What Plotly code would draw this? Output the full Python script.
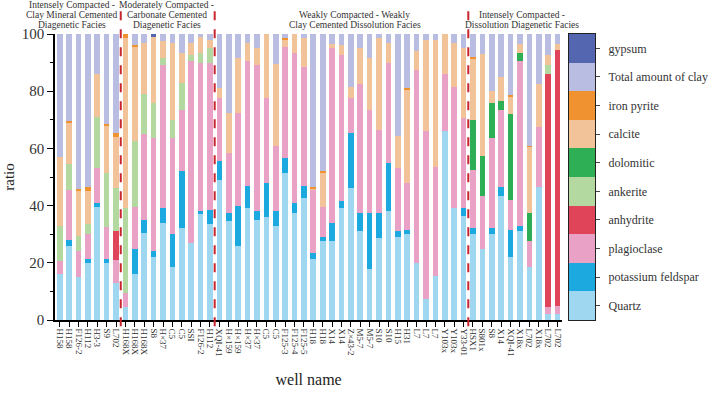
import plotly.graph_objects as go

# ---------------- data ----------------
wells = [
    # group 1
    "H158", "H158", "F126-2", "H112", "H3-3", "S9", "L702",
    # group 2
    "H168X", "H168X", "H168X", "S8", "H×37", "C5", "C5", "SSI", "F126-2", "H112",
    # group 3
    "XQI-41", "H×159", "H×159", "H×37", "H×37", "C5", "C5", "F125-3", "F125-4", "F125-5",
    "H18", "H18", "X14", "X14", "Z×43-2", "M5-7", "M5-7", "S10", "S10", "H15", "H31",
    "L7", "L7", "L7", "Y103x", "Y103x", "Y33-01",
    # group 4
    "HSX1", "S801x", "S8", "X14", "XQI-41", "X18x", "L702", "X18x", "L702", "L702",
]

group_sizes = [7, 10, 27, 10]
group_titles = [
    ["Intensely Compacted -", "Clay Mineral Cemented", "Diagenetic Facies"],
    ["Moderately Compacted -", "Carbonate Cemented", "Diagenetic Facies"],
    ["Weakly Compacted - Weakly", "Clay Cemented Dissolution Facies"],
    ["Intensely Compacted -", "Dissolution Diagenetic Facies"],
]

quartz = [16, 26, 15, 20, 39.5, 20, 13,
          4.5, 16, 30.5, 22, 34, 18.5, 32, 27, 37, 33.5,
          49, 34.5, 26, 39, 35, 36, 33, 51.5, 37.5, 42.5, 21.5, 27.5, 27.5, 39, 46, 31, 18,
          28.5, 38, 29, 30, 20, 7.5, 15.5, 66, 39, 36.5,
          30, 25, 30, 43.5, 22, 31, 18.5, 46.5, 2, 2]
k_feldspar = [0, 2, 0, 1.5, 1.5, 1.5, 0,
              0, 9, 4.5, 2, 5, 11.5, 20, 0, 1, 5,
              6.5, 3, 14, 8, 3, 12, 5, 5, 3.5, 4.5, 2, 1.5, 6.5, 2.5, 19.5, 6.5, 19.5,
              9, 17, 2, 1.5, 0, 0, 0, 0, 0, 2.5,
              2, 0, 2, 3, 9.5, 2, 0, 0, 0, 0]
plagioclase = [4.5, 17.5, 9, 8.5, 12, 11, 8,
               5, 14.5, 30, 39.5, 50, 33.5, 21.5, 63.5, 52, 51.5,
               22, 21, 32.5, 43.5, 51, 29.5, 23, 39, 52.5, 41.5, 22, 10.5, 61, 51, 12, 45, 36,
               29, 35, 22, 16.5, 67.5, 58.5, 38, 20, 42.5, 31.5,
               20.5, 18.5, 31.5, 27, 10.5, 57.5, 9, 21, 2.5, 3]
anhydrite = [0, 0, 0, 0, 0, 0, 10,
             0, 0, 0, 0, 0, 0, 0, 0, 0, 0,
             0, 0, 0, 0, 0, 0, 0, 0, 0, 0, 0, 0, 0, 0, 0, 0, 0,
             0, 0, 0, 0, 0, 0, 0, 0, 0, 0,
             0, 0, 0, 0, 0, 0, 0, 0, 81.5, 89.5]
ankerite = [12.5, 9, 5.5, 3.5, 18, 19, 15,
            29.5, 23, 14, 12.5, 2.5, 6.5, 9.5, 2, 3.5, 5,
            0, 0, 0, 0, 0, 0, 0, 0, 0, 0, 0, 0, 0, 0, 0, 0, 0,
            0, 0, 0, 0, 0, 0, 0, 0, 0, 0,
            0, 0, 0, 0, 0, 0, 0, 0, 3, 0]
dolomitic = [0, 0, 0, 0, 0, 0, 0,
             0, 0, 0, 0, 0, 0, 0, 0, 0, 0,
             0, 0, 0, 0, 0, 0, 0, 0, 0, 0, 0, 0, 0, 0, 0, 0, 0,
             0, 0, 0, 0, 0, 0, 0, 0, 0, 0,
             17.5, 14, 12.5, 3, 30, 3, 10, 0, 0, 0]
calcite = [24, 14.5, 15.5, 11.5, 15, 16.5, 18,
           59.5, 33, 18, 22.8, 6, 27, 10.5, 4.5, 5.5, 3,
           3.5, 14, 19, 6.5, 6, 22.5, 28.5, 2.5, 6.5, 10, 0.5, 12, 1.5, 3.5, 4, 12.5, 18,
           32, 7, 11.5, 32.5, 6.5, 32, 44.5, 14, 15.5, 24.5,
           21.5, 35.5, 4, 8.5, 6, 3, 23, 15, 3.5, 2]
iron_pyrite = [0, 0.5, 0.7, 1.5, 0, 0.7, 1.5,
               1.5, 0.5, 0, 0, 0, 0, 0, 0, 0, 0,
               0, 0, 0, 0, 0, 0, 0, 0.5, 0, 0, 0.5, 0.5, 0, 0, 0, 0, 0,
               0, 0, 0, 0.5, 0, 0, 0, 0, 0, 0,
               0.5, 0, 0, 0, 0.5, 0, 0.5, 0, 0, 0]
clay = [43, 30.5, 54.3, 53.5, 14, 31.3, 34.5,
        0, 4, 3, 0, 2.5, 3, 6.5, 3, 1, 2,
        19, 27.5, 8.5, 3, 5, 0, 10.5, 1.5, 0, 1.5, 53.5, 48, 3.5, 4, 18.5, 5, 8.5,
        1.5, 3, 35.5, 19, 6, 2, 2, 0, 3, 5,
        8, 7, 20, 15, 21.5, 3.5, 39, 17.5, 7.5, 3.5]
gypsum = [0, 0, 0, 0, 0, 0, 0,
          0, 0, 0, 1.2, 0, 0, 0, 0, 0, 0,
          0, 0, 0, 0, 0, 0, 0, 0, 0, 0, 0, 0, 0, 0, 0, 0, 0,
          0, 0, 0, 0, 0, 0, 0, 0, 0, 0,
          0, 0, 0, 0, 0, 0, 0, 0, 0, 0]

series_names = ["Quartz", "potassium feldspar", "plagioclase", "anhydrite", "ankerite",
                "dolomitic", "calcite", "iron pyrite", "Total amount of clay", "gypsum"]
series_values = [quartz, k_feldspar, plagioclase, anhydrite, ankerite,
                 dolomitic, calcite, iron_pyrite, clay, gypsum]
series_colors = ["#9fd7f0", "#1ba9e0", "#e9a2c6", "#df4458", "#b4d9a0",
                 "#2faf55", "#f2c298", "#f0922f", "#b9bde1", "#5566b1"]

# ---------------- figure ----------------
SERIF = "Liberation Serif, Times New Roman, serif"
n = len(wells)
xs = list(range(n))

fig = go.Figure()
for name, vals, col in zip(series_names, series_values, series_colors):
    fig.add_trace(go.Bar(x=xs, y=vals, name=name, marker=dict(color=col, line=dict(width=0)),
                         xaxis="x", yaxis="y", showlegend=False))

# colour-key block drawn as a single stacked bar on its own axes
for name, col in zip(series_names, series_colors):
    fig.add_trace(go.Bar(x=[0], y=[1], width=[1], name=name,
                         marker=dict(color=col, line=dict(width=0)),
                         xaxis="x2", yaxis="y2", showlegend=False))

# group separators and titles
shapes = []
annotations = []
start = 0
for gi, size in enumerate(group_sizes):
    end = start + size
    if gi > 0:
        shapes.append(dict(type="line", xref="x", yref="paper", x0=start - 0.5, x1=start - 0.5,
                           y0=-0.022, y1=1.08, line=dict(color="#c8262e", width=2, dash="dash")))
    start = end

title_centers = [1.3, 11.4, 31.4, 49.2]
for lines, cx in zip(group_titles, title_centers):
    nl = len(lines)
    for k, line in enumerate(lines):
        annotations.append(dict(xref="x", yref="paper", x=cx,
                                y=1.033 + (nl - 1 - k) * 0.035, yanchor="middle",
                                text=line, showarrow=False,
                                font=dict(family=SERIF, size=9.5, color="#333")))

fig.update_layout(
    width=713, height=393,
    margin=dict(l=55, r=5, t=34, b=73),
    paper_bgcolor="white", plot_bgcolor="white",
    barmode="stack", bargap=0.4,
    shapes=shapes, annotations=annotations,
    font=dict(family=SERIF, color="#222"),
    xaxis=dict(domain=[0, 0.7864], range=[-0.5, n - 0.5], tickmode="array",
               tickvals=xs, ticktext=wells, tickangle=90,
               tickfont=dict(family=SERIF, size=9, color="#333"),
               ticks="outside", ticklen=5, tickcolor="black", tickwidth=1.2,
               showline=True, linecolor="black", linewidth=1.5, showgrid=False, zeroline=False,
               title=dict(text="well name", font=dict(family=SERIF, size=16, color="#222"),
                          standoff=18)),
    yaxis=dict(domain=[0, 1], range=[0, 100], dtick=20, ticks="outside", ticklen=6,
               tickcolor="black", tickwidth=1.2,
               minor=dict(dtick=10, ticks="outside", ticklen=3, tickcolor="black"),
               tickfont=dict(family=SERIF, size=15, color="#333"),
               showline=True, linecolor="black", linewidth=1.5, showgrid=False, zeroline=False,
               title=dict(text="ratio", font=dict(family=SERIF, size=15, color="#222"),
                          standoff=4)),
    xaxis2=dict(domain=[0.7963, 0.8372], anchor="y2", range=[-0.5, 0.5],
                showticklabels=False, ticks="", showline=True, mirror=True,
                linecolor="#222", linewidth=1.2, showgrid=False, zeroline=False),
    yaxis2=dict(domain=[0, 1], anchor="x2", side="right", range=[0, 10],
                tickmode="array", tickvals=[i + 0.5 for i in range(len(series_names))],
                ticktext=series_names, ticks="outside", ticklen=4, tickcolor="#444",
                ticklabelstandoff=6,
                tickfont=dict(family=SERIF, size=12, color="#333"),
                showline=True, mirror=True, linecolor="#222", linewidth=1.2,
                showgrid=False, zeroline=False),
)

fig.write_html("out.html")
